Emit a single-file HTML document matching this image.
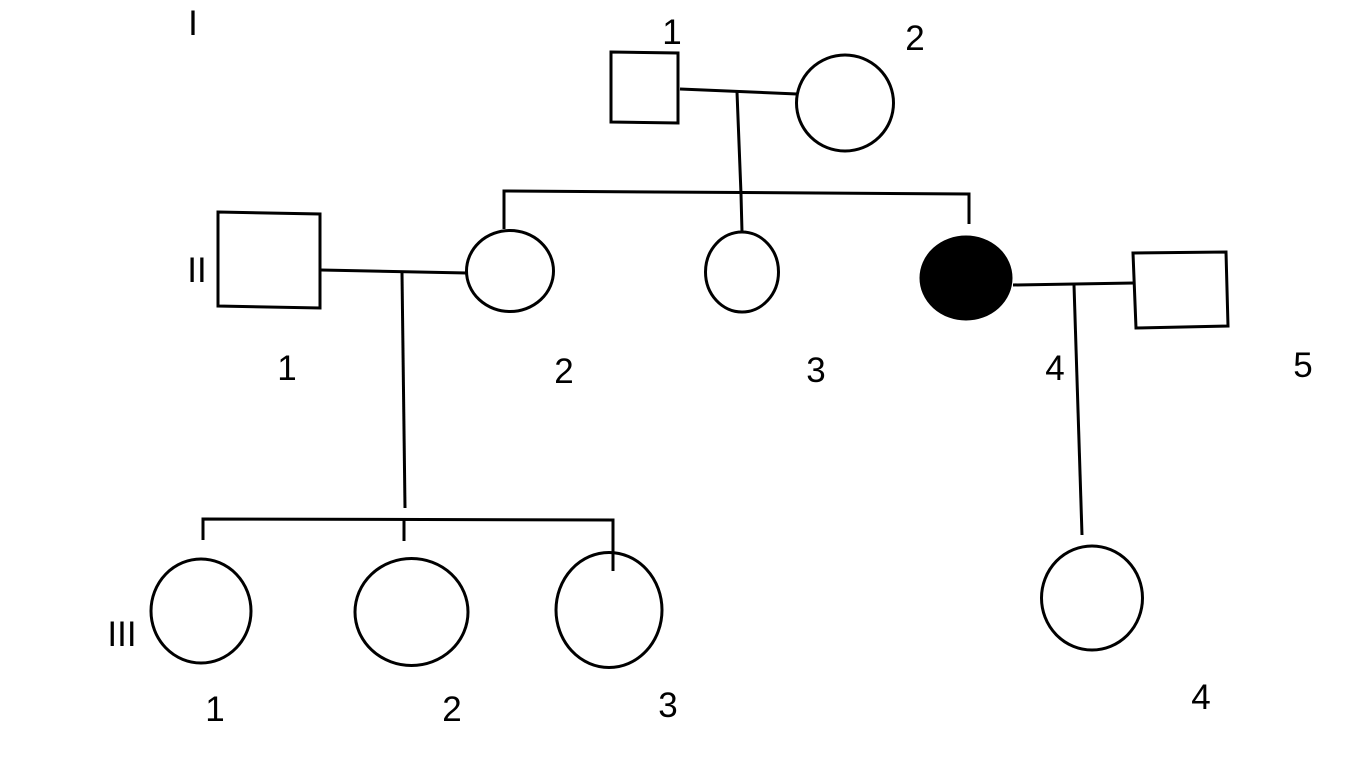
<!DOCTYPE html>
<html>
<head>
<meta charset="utf-8">
<style>
  html, body { margin: 0; padding: 0; background: #ffffff; }
  svg { display: block; }
  text { font-family: "Liberation Sans", "DejaVu Sans", sans-serif; font-size: 35px; fill: #000; }
</style>
</head>
<body>
<svg width="1360" height="784" viewBox="0 0 1360 784" xmlns="http://www.w3.org/2000/svg">
  <rect x="0" y="0" width="1360" height="784" fill="#ffffff"/>
  <g fill="none" stroke="#000" stroke-width="3" stroke-linejoin="miter">
    <!-- Generation I -->
    <polygon points="611,52 678,53 678,123 611,122"/>
    <ellipse cx="845" cy="103" rx="48.5" ry="48"/>
    <line x1="680" y1="89" x2="797" y2="94"/>
    <polyline points="737,92 741,194 742,232"/>

    <!-- Generation II sibship -->
    <polyline points="504,229 504,191 969,194 969,224"/>

    <!-- II-1 & II-2 -->
    <polygon points="218,212 320,214 320,308 218,306"/>
    <ellipse cx="510" cy="271" rx="43.5" ry="40.5"/>
    <line x1="321" y1="270" x2="467" y2="273"/>
    <line x1="402" y1="273" x2="405" y2="508"/>

    <!-- II-3 -->
    <ellipse cx="742" cy="272" rx="36.5" ry="40"/>

    <!-- II-4 (affected) & II-5 -->
    <line x1="1013" y1="285" x2="1134" y2="283"/>
    <polygon points="1133,253 1226,252 1228,326 1136,328"/>
    <line x1="1074" y1="285" x2="1082" y2="535"/>

    <!-- Generation III sibship -->
    <polyline points="203,540 203,519 613,520 613,571"/>
    <line x1="404" y1="519" x2="404" y2="541"/>

    <!-- Generation III -->
    <ellipse cx="201" cy="611" rx="50" ry="52"/>
    <ellipse cx="411.5" cy="612" rx="56.5" ry="53.5"/>
    <ellipse cx="609" cy="610" rx="53" ry="57.5"/>
    <ellipse cx="1092" cy="598" rx="50.5" ry="52"/>
  </g>
  <ellipse cx="966" cy="278" rx="45.5" ry="41.5" fill="#000" stroke="#000" stroke-width="2"/>

  <!-- Labels -->
  <g text-anchor="middle">
    <text x="193" y="35">I</text>
    <text x="672" y="44">1</text>
    <text x="915" y="50">2</text>

    <text x="197" y="282">II</text>
    <text x="287" y="380">1</text>
    <text x="564" y="383">2</text>
    <text x="816" y="382">3</text>
    <text x="1055" y="380">4</text>
    <text x="1303" y="377">5</text>

    <text x="122" y="646">III</text>
    <text x="215" y="721">1</text>
    <text x="452" y="721">2</text>
    <text x="668" y="717">3</text>
    <text x="1201" y="709">4</text>
  </g>
</svg>
</body>
</html>
